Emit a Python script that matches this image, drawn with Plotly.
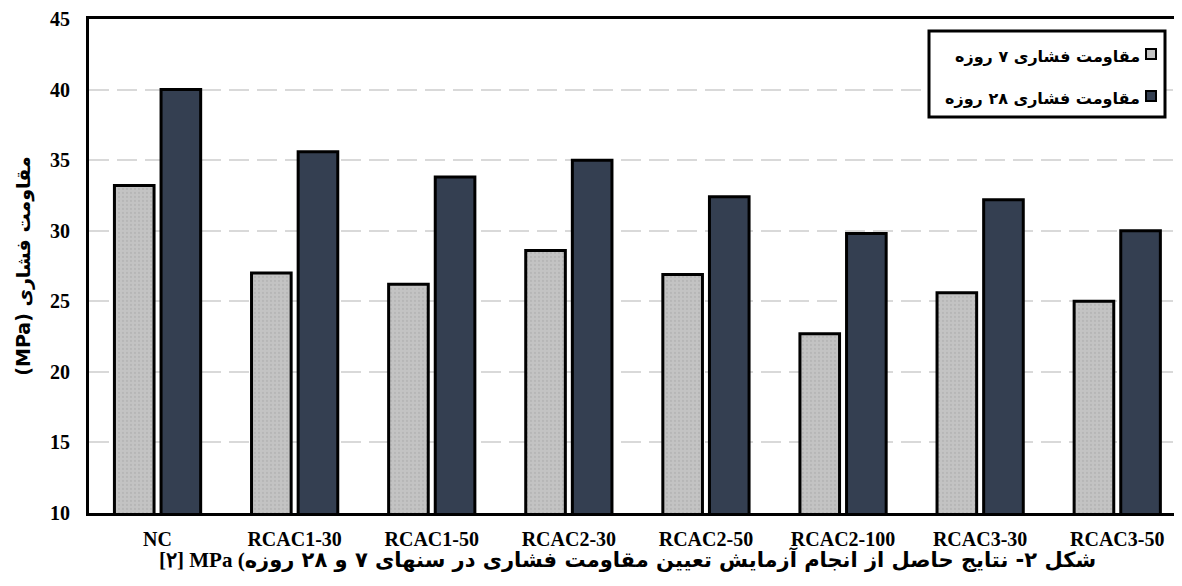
import plotly.graph_objects as go

# ---------------- data ----------------
categories = ["NC", "RCAC1-30", "RCAC1-50", "RCAC2-30", "RCAC2-50",
              "RCAC2-100", "RCAC3-30", "RCAC3-50"]
strength_7d = [33.2, 27.0, 26.2, 28.6, 26.9, 22.7, 25.6, 25.0]
strength_28d = [40.0, 35.6, 33.8, 35.0, 32.4, 29.8, 32.2, 30.0]
series_names = ["مقاومت فشاری ۷ روزه", "مقاومت فشاری ۲۸ روزه"]
y_ticks = [10, 15, 20, 25, 30, 35, 40, 45]
y_title = "(MPa) مقاومت فشاری"
caption_latin = "[۲] MPa ("
caption_fa = "شکل ۲- نتایج حاصل از انجام آزمایش تعیین مقاومت فشاری در سنهای ۷ و ۲۸ روزه"

# ---------------- style ----------------
OFF = 8                      # default page body margin
W, H = 1182 - OFF, 586 - OFF
ML, MR, MT, MB = 81, 0, 11, 73
PW, PH = W - ML - MR, H - MT - MB
C7 = "#c3c3c3"
C28 = "#343f51"
SERIF = "Liberation Serif"
FA = "DejaVu Sans"


def px(x):
    return (x - OFF - ML) / PW


def py(y):
    return (H - MB - (y - OFF)) / PH


fig = go.Figure()
fig.add_trace(go.Bar(
    x=categories, y=strength_7d, name=series_names[0], showlegend=False,
    marker=dict(color=C7, line=dict(color="black", width=3),
                pattern=dict(shape=".", fgcolor="#a9a9a9", bgcolor=C7,
                             size=4, solidity=0.25)),
))
fig.add_trace(go.Bar(
    x=categories, y=strength_28d, name=series_names[1], showlegend=False,
    marker=dict(color=C28, line=dict(color="black", width=3)),
))

spacing = 137.1
fig.update_layout(
    width=W, height=H, autosize=False,
    margin=dict(l=ML, r=MR, t=MT, b=MB),
    paper_bgcolor="white", plot_bgcolor="white",
    barmode="group", bargap=0.32, bargroupgap=0.15,
    xaxis=dict(
        type="category", range=[-0.5, -0.5 + PW / spacing],
        showgrid=False, showline=True, linecolor="black", linewidth=3,
        mirror=True, ticks="", ticklabelstandoff=6,
        tickfont=dict(family=SERIF, size=20, color="black", weight="bold"),
    ),
    yaxis=dict(
        range=[10, 45], tickvals=y_ticks, showline=True, linecolor="black",
        linewidth=3, mirror=False, ticks="", ticklabelstandoff=12,
        showgrid=True, gridcolor="#d9d9d9", gridwidth=2, griddash="20px,8px",
        zeroline=False,
        tickfont=dict(family=SERIF, size=20, color="black", weight="bold"),
        title=dict(text=y_title, standoff=15,
                   font=dict(family=FA, size=19, color="black", weight="bold")),
    ),
)

# custom legend (marker to the right of the text, as in the original)
fig.add_shape(type="rect", xref="paper", yref="paper",
              x0=px(929), x1=px(1165), y0=py(117), y1=py(31),
              line=dict(color="black", width=3), fillcolor="white", layer="above")
legend_rows = [(54, C7), (96, C28)]
for name, (yc, col) in zip(series_names, legend_rows):
    fig.add_shape(type="rect", xref="paper", yref="paper",
                  x0=px(1146), x1=px(1156), y0=py(yc + 5), y1=py(yc - 5),
                  line=dict(color="black", width=2), fillcolor=col, layer="above")
    fig.add_annotation(xref="paper", yref="paper", x=px(1142), y=py(yc + 3),
                       xanchor="right", yanchor="middle", showarrow=False,
                       text=name,
                       font=dict(family=FA, size=16, color="black", weight="bold"))

# caption
fig.add_annotation(
    xref="paper", yref="paper", x=px(627), y=py(559),
    xanchor="center", yanchor="middle", showarrow=False,
    text=f"<span style='font-family:{SERIF}'>{caption_latin}</span>{caption_fa}",
    font=dict(family=FA, size=21, color="black", weight="bold"),
)

fig.write_html("out.html")
